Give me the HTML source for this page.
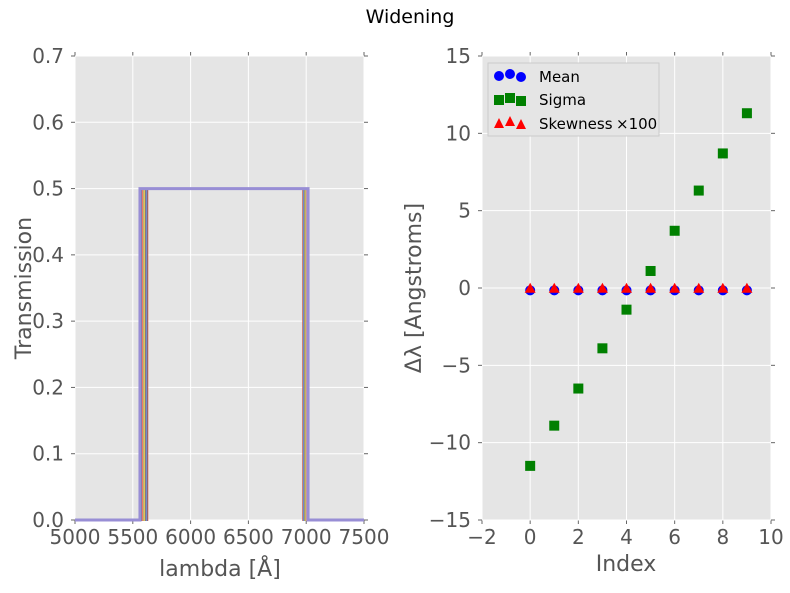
<!DOCTYPE html>
<html><head><meta charset="utf-8"><style>
body{margin:0;background:#fff;font-family:"DejaVu Sans","Liberation Sans",sans-serif;}
svg text{font-family:"DejaVu Sans","Liberation Sans",sans-serif;}
</style></head><body>
<svg id="c" width="790" height="589" xmlns="http://www.w3.org/2000/svg">
<text x="410" y="23" font-size="19" text-anchor="middle" fill="#000">Widening</text>
<g id="left"></g>
<g id="right"></g>
</svg>
<script>
const leftXTicks=[5000,5500,6000,6500,7000,7500];
const leftYTicks=[0.0,0.1,0.2,0.3,0.4,0.5,0.6,0.7];
const filterLow=[5625,5618,5611,5604,5597,5590,5583,5576,5569,5562];
const filterHigh=[6975,6980,6985,6990,6995,7000,7005,7010,7013,7016];
const filterPeak=[0.5,0.5,0.5,0.5,0.5,0.5,0.5,0.5,0.5,0.5];
const filterColors=["#E24A33","#348ABD","#988ED5","#777777","#FBC15E","#8EBA42","#FFB5B8","#E24A33","#348ABD","#988ED5"];
const indexVals=[0,1,2,3,4,5,6,7,8,9];
const meanVals=[-0.15,-0.15,-0.15,-0.15,-0.15,-0.15,-0.15,-0.15,-0.15,-0.15];
const sigmaVals=[-11.5,-8.9,-6.5,-3.9,-1.4,1.1,3.7,6.3,8.7,11.3];
const skewVals=[-0.05,-0.05,-0.05,-0.05,-0.05,-0.05,-0.05,-0.05,-0.05,-0.05];
const rightXTicks=[-2,0,2,4,6,8,10];
const rightYTicks=[-15,-10,-5,0,5,10,15];
const NS="http://www.w3.org/2000/svg";
function el(p,t,a){const e=document.createElementNS(NS,t);for(const k in a)e.setAttribute(k,a[k]);p.appendChild(e);return e;}
const T=56,B=520;
function panel(g,x0,x1,xmin,xmax,ymin,ymax,xt,yt,xfmt,yfmt){
 const sx=v=>x0+(v-xmin)/(xmax-xmin)*(x1-x0);
 const sy=v=>B-(v-ymin)/(ymax-ymin)*(B-T);
 const bg=el(g,'rect',{x:x0,y:T,width:x1-x0,height:B-T,fill:'#E5E5E5'});
 
 
 xt.forEach(v=>{const x=sx(v);
  const l=el(g,'line',{x1:x,x2:x,y1:T,y2:B,stroke:'#fff','stroke-width':1});
  
  
  el(g,'line',{x1:x,x2:x,y1:B,y2:B+4,stroke:'#666'});el(g,'line',{x1:x,x2:x,y1:T,y2:T-4,stroke:'#666'});
  const t=el(g,'text',{x:x,y:B+24,'font-size':20,'text-anchor':'middle',fill:'#555'});t.textContent=xfmt(v);
  
  });
 yt.forEach(v=>{const y=sy(v);
  const l=el(g,'line',{x1:x0,x2:x1,y1:y,y2:y,stroke:'#fff','stroke-width':1});
  
  
  el(g,'line',{x1:x0,x2:x0-4,y1:y,y2:y,stroke:'#666'});el(g,'line',{x1:x1,x2:x1+4,y1:y,y2:y,stroke:'#666'});
  const t=el(g,'text',{x:x0-11,y:y+7,'font-size':20,'text-anchor':'end',fill:'#555'});t.textContent=yfmt(v);
  
  });
 return {sx,sy};
}
const L=document.getElementById('left');
const a=panel(L,75,364,5000,7500,0,0.7,leftXTicks,leftYTicks,v=>String(v),v=>v.toFixed(1));
filterLow.forEach((lo,i)=>{
 const hi=filterHigh[i],pk=filterPeak[i];
 const p=el(L,'polyline',{points:`${a.sx(5000)},${a.sy(0)} ${a.sx(lo)},${a.sy(0)} ${a.sx(lo)},${a.sy(pk)} ${a.sx(hi)},${a.sy(pk)} ${a.sx(hi)},${a.sy(0)} ${a.sx(7500)},${a.sy(0)}`,fill:'none',stroke:filterColors[i],'stroke-width':i===filterLow.length-1?3:2});
 
 
});
let t=el(L,'text',{x:220,y:576,'font-size':22,'text-anchor':'middle',fill:'#555'});t.textContent='lambda [Å]';


t=el(L,'text',{x:0,y:0,'font-size':22,'text-anchor':'middle',fill:'#555',transform:'translate(31,288) rotate(-90)'});t.textContent='Transmission';



const R=document.getElementById('right');
const b=panel(R,482,771,-2,10,-15,15,rightXTicks,rightYTicks,v=>v<0?'\u2212'+(-v):String(v),v=>v<0?'\u2212'+(-v):String(v));
indexVals.forEach((x,i)=>{
 const c=el(R,'circle',{cx:b.sx(x),cy:b.sy(meanVals[i]),r:5,fill:'#0000ff'});
 
 
 const s=el(R,'rect',{x:b.sx(x)-5,y:b.sy(sigmaVals[i])-5,width:10,height:10,fill:'#008000'});
 
 
 const X=b.sx(x),Y=b.sy(skewVals[i]);
 const tr=el(R,'polygon',{points:`${X},${Y-6} ${X-5.5},${Y+4} ${X+5.5},${Y+4}`,fill:'#ff0000'});
 
 
});
const lg=el(R,'g',{});


el(lg,'rect',{x:488,y:63,width:171,height:73,fill:'#E5E5E5',stroke:'#ccc'});
[[499,76],[510,74],[521,77]].forEach(p=>el(lg,'circle',{cx:p[0],cy:p[1],r:5,fill:'#0000ff'}));
[[499,100],[510,98],[521,101]].forEach(p=>el(lg,'rect',{x:p[0]-5,y:p[1]-5,width:10,height:10,fill:'#008000'}));
[[499,124],[510,122],[521,125]].forEach(p=>el(lg,'polygon',{points:`${p[0]},${p[1]-6} ${p[0]-5},${p[1]+4} ${p[0]+5},${p[1]+4}`,fill:'#ff0000'}));
[['Mean',82],['Sigma',105],['Skewness',129]].forEach(d=>{const q=el(lg,'text',{x:539,y:d[1],'font-size':15,fill:'#000'});q.textContent=d[0];
 
 });
t=el(lg,'text',{x:616,y:129,'font-size':15,fill:'#000','font-family':'DejaVu Serif, serif'});t.textContent='×100';
t=el(R,'text',{x:626,y:571,'font-size':22,'text-anchor':'middle',fill:'#555'});t.textContent='Index';


t=el(R,'text',{x:0,y:0,'font-size':22,'text-anchor':'middle',fill:'#555',transform:'translate(421,288) rotate(-90)'});t.textContent='Δλ [Angstroms]';


</script>
</body></html>
